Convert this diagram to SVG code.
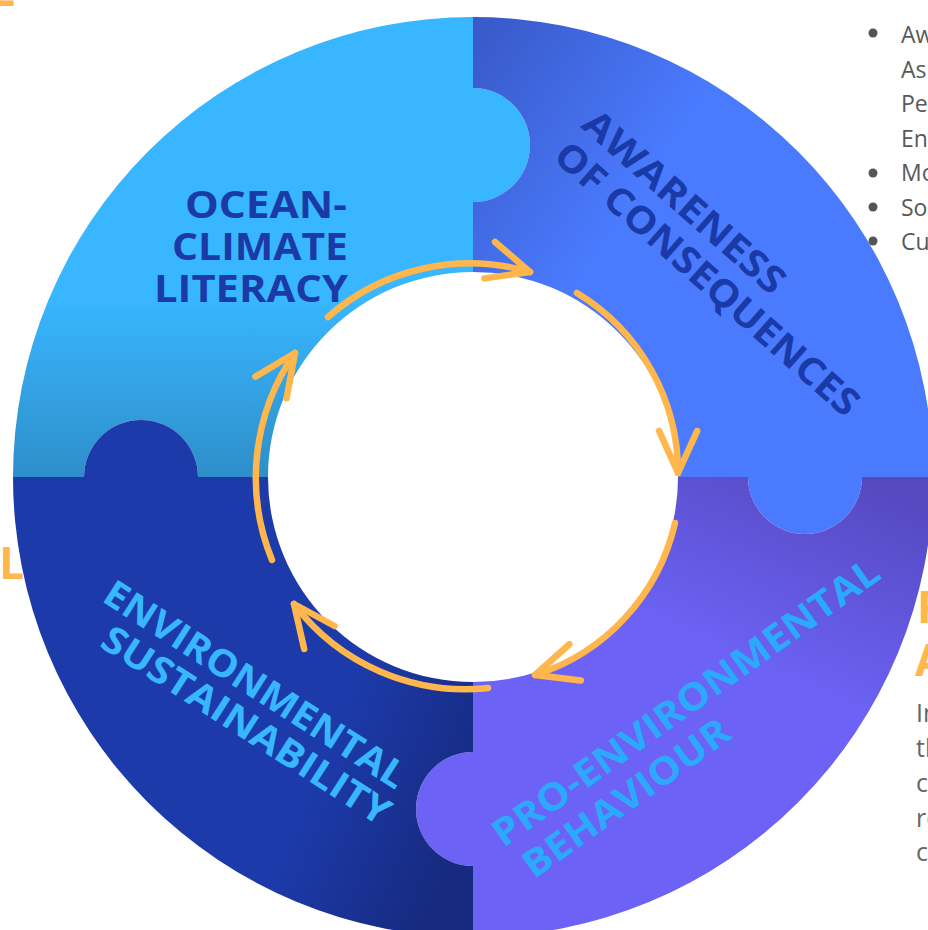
<svg xmlns="http://www.w3.org/2000/svg" width="928" height="930" viewBox="0 0 928 930">
<defs>
<style>
.hd{font-family:"Open Sans","Noto Sans","Liberation Sans",sans-serif;font-weight:700;font-size:37.5px}
.cyc{fill:none;stroke:#ffb74d;stroke-width:6.5;stroke-linecap:round;stroke-linejoin:round}
.side{font-family:"Open Sans","Noto Sans","Liberation Sans",sans-serif;fill:#595959;font-size:23px}
.side2{font-family:"Open Sans","Noto Sans","Liberation Sans",sans-serif;fill:#666666;font-size:25px}
.or{font-family:"Open Sans","Noto Sans","Liberation Sans",sans-serif;font-weight:700;fill:#ffb74d;font-size:44px}
.dot{fill:#555555}
</style>
<linearGradient id="gTL" gradientUnits="userSpaceOnUse" x1="0" y1="300" x2="0" y2="477">
<stop offset="0" stop-color="#38b6ff"/><stop offset="1" stop-color="#2e8ec9"/>
</linearGradient>
<linearGradient id="gTR" gradientUnits="userSpaceOnUse" x1="473" y1="60" x2="650" y2="180">
<stop offset="0" stop-color="#3a5bcc"/><stop offset="1" stop-color="#4a7bff"/>
</linearGradient>
<linearGradient id="gBR" gradientUnits="userSpaceOnUse" x1="870" y1="480" x2="780" y2="680">
<stop offset="0" stop-color="#5549c0"/><stop offset="1" stop-color="#6c62f5"/>
</linearGradient>
<linearGradient id="gBL" gradientUnits="userSpaceOnUse" x1="473" y1="800" x2="330" y2="740">
<stop offset="0" stop-color="#162a80"/><stop offset="1" stop-color="#1c3aaa"/>
</linearGradient>
<marker id="ah" markerUnits="userSpaceOnUse" viewBox="-50 -50 100 100" markerWidth="100" markerHeight="100" refX="0" refY="0" orient="auto" overflow="visible">
<path class="cyc" d="M-42,-19 L0,0 L-42,19"/>
</marker>
</defs>

<g id="node-ocean-climate-literacy">
<path fill="url(#gTL)" d="M268,477 L198,477 A57,57 0 0 0 84,477 L13,477 A460,460 0 0 1 473,17 L473,88 A57,57 0 0 1 473,202 L473,272 A205,205 0 0 0 268,477 Z"/>
<g class="hd" fill="#1b3aa6" text-anchor="end">
<text x="347" y="218" textLength="162" lengthAdjust="spacingAndGlyphs">OCEAN-</text>
<text x="348" y="260" textLength="176" lengthAdjust="spacingAndGlyphs">CLIMATE</text>
<text x="348" y="302" textLength="194" lengthAdjust="spacingAndGlyphs">LITERACY</text>
</g>
</g>

<g id="node-awareness-of-consequences">
<path fill="url(#gTR)" d="M473,272 L473,202 A57,57 0 0 0 473,88 L473,17 A460,460 0 0 1 933,477 L862,477 A57,57 0 0 1 748,477 L678,477 A205,205 0 0 0 473,272 Z"/>
<g class="hd" fill="#1a3aa8" text-anchor="middle">
<text x="675.5" y="211.6" transform="rotate(41.5 675.5 211.6)" textLength="256" lengthAdjust="spacingAndGlyphs">AWARENESS</text>
<text x="698.6" y="288.6" transform="rotate(41.5 698.6 288.6)" textLength="392" lengthAdjust="spacingAndGlyphs">OF CONSEQUENCES</text>
</g>
</g>

<g id="node-pro-environmental-behaviour">
<path fill="url(#gBR)" d="M678,477 L748,477 A57,57 0 0 0 862,477 L933,477 A460,460 0 0 1 473,937 L473,866 A57,57 0 0 1 473,752 L473,682 A205,205 0 0 0 678,477 Z"/>
<g class="hd" fill="#2aa9fd" text-anchor="middle">
<text x="693.3" y="713" transform="rotate(-35.5 693.3 713)" textLength="466" lengthAdjust="spacingAndGlyphs">PRO-ENVIRONMENTAL</text>
<text x="633.8" y="808.5" transform="rotate(-35.5 633.8 808.5)" textLength="245" lengthAdjust="spacingAndGlyphs">BEHAVIOUR</text>
</g>
</g>

<g id="node-environmental-sustainability">
<path fill="url(#gBL)" d="M473,682 L473,752 A57,57 0 0 0 473,866 L473,937 A460,460 0 0 1 13,477 L84,477 A57,57 0 0 1 198,477 L268,477 A205,205 0 0 0 473,682 Z"/>
<g class="hd" fill="#38b6ff" text-anchor="middle">
<text x="248.2" y="695.4" transform="rotate(32.7 248.2 695.4)" textLength="351" lengthAdjust="spacingAndGlyphs">ENVIRONMENTAL</text>
<text x="239.2" y="736.4" transform="rotate(32.7 239.2 736.4)" textLength="335" lengthAdjust="spacingAndGlyphs">SUSTAINABILITY</text>
</g>
</g>

<g id="connectors">
<path class="cyc" marker-end="url(#ah)" d="M328,317 A214,214 0 0 1 530,272"/>
<path class="cyc" marker-end="url(#ah)" d="M577,293 A210,210 0 0 1 678,473"/>
<path class="cyc" marker-end="url(#ah)" d="M675,523 A208,208 0 0 1 535,675"/>
<path class="cyc" marker-end="url(#ah)" d="M488,688 A215,215 0 0 1 294,604"/>
<path class="cyc" marker-end="url(#ah)" d="M272,560 A218,218 0 0 1 295,353"/>
</g>

<g id="side-list">
<circle class="dot" cx="873" cy="33" r="4.5"/>
<circle class="dot" cx="873" cy="173" r="4.5"/>
<circle class="dot" cx="873" cy="207" r="4.5"/>
<circle class="dot" cx="873" cy="241" r="4.5"/>
<text class="side" x="901" y="43">Aw</text>
<text class="side" x="901" y="78">As</text>
<text class="side" x="901" y="112">Pe</text>
<text class="side" x="901" y="147">En</text>
<text class="side" x="901" y="181">Mo</text>
<text class="side" x="901" y="216">So</text>
<text class="side" x="901" y="250">Cu</text>
</g>

<g id="side-heading">
<text class="or" x="917" y="623">P</text>
<text class="or" x="915" y="676">A</text>
<text class="side2" x="916" y="722">In</text>
<text class="side2" x="916" y="757">th</text>
<text class="side2" x="916" y="792">c</text>
<text class="side2" x="916" y="827">re</text>
<text class="side2" x="916" y="861">c</text>
</g>

<g id="edge-labels">
<text class="or" x="24" y="579" text-anchor="end">L</text>
<text class="or" x="15" y="6" text-anchor="end">L</text>
</g>
</svg>
